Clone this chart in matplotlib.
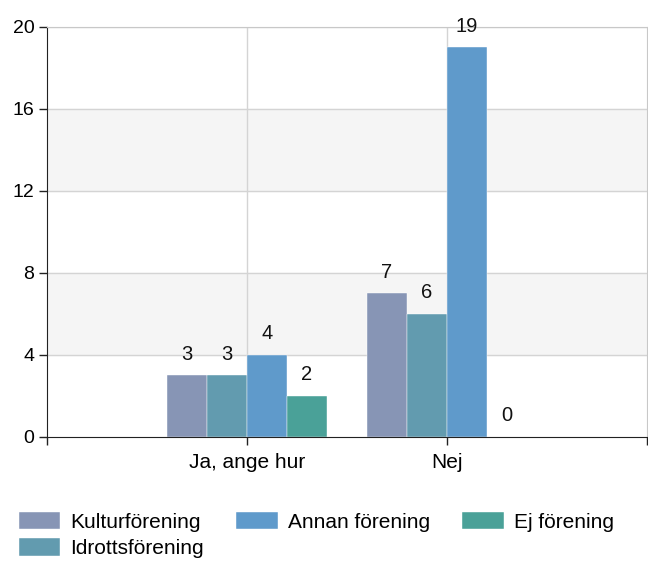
import matplotlib.pyplot as plt
import numpy as np

plt.rcParams['font.family'] = ['Liberation Sans', 'DejaVu Sans']

categories = ['Ja, ange hur', 'Nej']
series = ['Kulturförening', 'Idrottsförening', 'Annan förening', 'Ej förening']
values = {
    'Kulturförening': [3, 7],
    'Idrottsförening': [3, 6],
    'Annan förening': [4, 19],
    'Ej förening': [2, 0],
}
colors = ['#8795B5', '#629BAF', '#5F9ACB', '#4AA198']

fig = plt.figure(figsize=(6.48, 5.61), dpi=100)
ax = fig.add_axes([47 / 648, 1 - 436.5 / 561, 600 / 648, 410 / 561])

x = np.arange(len(categories))
width = 0.2

# alternating bands
for lo in (4, 12):
    ax.axhspan(lo, lo + 4, color='#f5f5f5', zorder=0)
for yv in (4, 8, 12, 16, 20):
    ax.axhline(yv, color='#d4d4d4', lw=1, zorder=1)
for xv in x:
    ax.axvline(xv, color='#d4d4d4', lw=1, zorder=1)

for i, name in enumerate(series):
    pos = x + (i - 1.5) * width
    ax.bar(pos, values[name], width, color=colors[i], label=name,
           edgecolor='white', linewidth=0.3, zorder=2)
    for px, v in zip(pos, values[name]):
        ax.text(px, v + 0.55, str(v), ha='center', va='bottom',
                fontsize=14.5, color='#111111', zorder=3)

ax.set_xlim(-1, 2)
ax.set_ylim(0, 20)
ax.set_yticks([0, 4, 8, 12, 16, 20])
ax.set_xticks([-1, 0, 1, 2])
ax.set_xticklabels(['', categories[0], categories[1], ''])
ax.tick_params(axis='both', length=6, width=1, color='#222222')
ax.tick_params(axis='y', labelsize=14, pad=3)
ax.tick_params(axis='x', labelsize=15, pad=6)

ax.spines['left'].set_color('#222222')
ax.spines['bottom'].set_color('#222222')
ax.spines['top'].set_color('#c8c8c8')
ax.spines['right'].set_color('#c8c8c8')

handles, labels = ax.get_legend_handles_labels()
fig.legend(handles, labels, ncol=3, loc='upper left',
           bbox_to_anchor=(0.029, 0.087), frameon=False, fontsize=15,
           handlelength=2.0, handleheight=0.9, handletextpad=0.48,
           columnspacing=1.55, labelspacing=0.3, borderaxespad=0,
           borderpad=0)

plt.savefig('out.png', facecolor='white')
